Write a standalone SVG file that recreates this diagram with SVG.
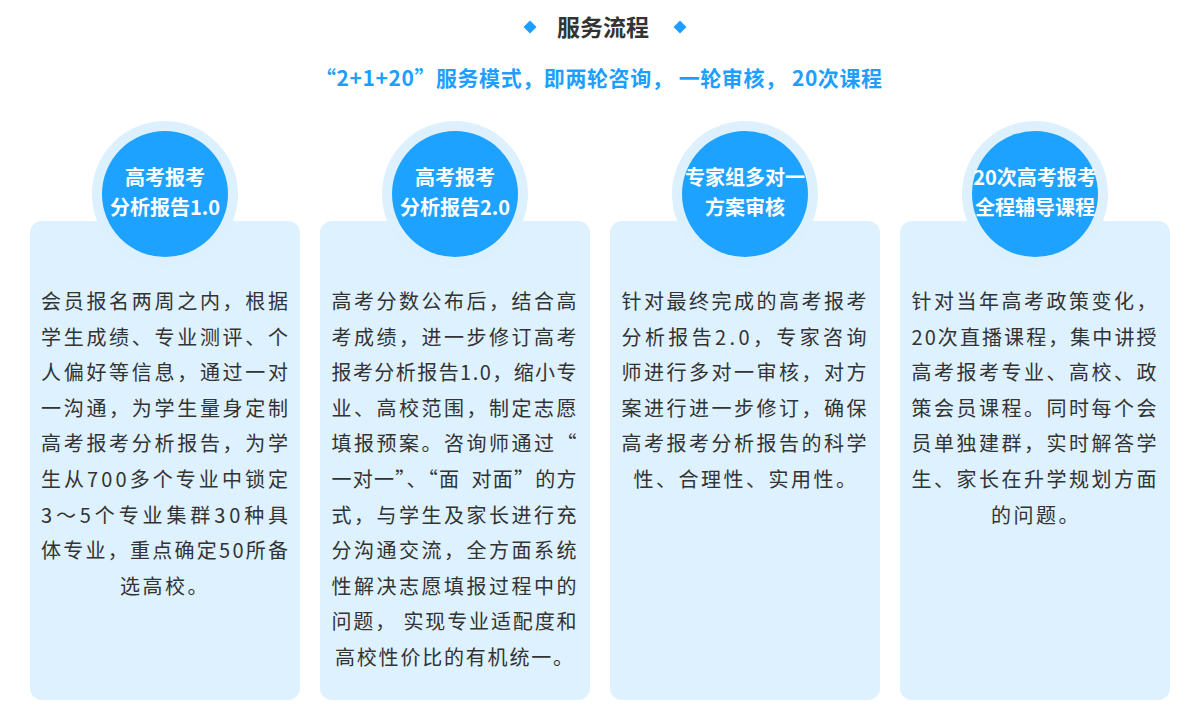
<svg xmlns="http://www.w3.org/2000/svg" width="1200" height="715" viewBox="0 0 1200 715">
<style>
.card{fill:#DEF1FE}
.halo{fill:#DDF0FD}
.disc{fill:#1EA2FF}
.ct{font-family:"Noto Sans CJK SC","Noto Sans",sans-serif;font-size:20px;font-weight:bold;fill:#FFFFFF;text-anchor:middle}
.bt{font-family:"Noto Sans CJK SC","Noto Sans",sans-serif;font-size:20px;fill:#333333}
.bc{text-anchor:middle;letter-spacing:2.5px}
.dia{fill:#1E9FFF}
</style>
<rect width="1200" height="715" fill="#FFFFFF"/>
<g id="title">
<path class="dia" d="M530 20.5 L536.5 27 L530 33.5 L523.5 27 Z"/>
<path class="dia" d="M680 20.5 L686.5 27 L680 33.5 L673.5 27 Z"/>
<text x="603" y="36" font-family="'Noto Sans CJK SC','Noto Sans',sans-serif" font-size="23" font-weight="bold" fill="#333333" text-anchor="middle">服务流程</text>
<text x="315" y="86" textLength="567" lengthAdjust="spacing" font-family="'Noto Sans CJK SC','Noto Sans',sans-serif" font-size="21" font-weight="bold" fill="#1E9FFF">“2+1+20”服务模式，即两轮咨询， 一轮审核， 20次课程</text>
</g>
<g id="node1">
<rect class="card" x="30" y="221" width="270" height="479" rx="12"/>
<circle class="halo" cx="165" cy="194" r="73"/>
<circle class="disc" cx="165" cy="194" r="63"/>
<text class="ct" x="165" y="185">高考报考</text>
<text class="ct" x="165" y="215">分析报告1.0</text>
<text class="bt" x="41" y="309" textLength="247" lengthAdjust="spacing">会员报名两周之内，根据</text>
<text class="bt" x="41" y="344.6" textLength="247" lengthAdjust="spacing">学生成绩、专业测评、个</text>
<text class="bt" x="41" y="380.2" textLength="247" lengthAdjust="spacing">人偏好等信息，通过一对</text>
<text class="bt" x="41" y="415.8" textLength="247" lengthAdjust="spacing">一沟通，为学生量身定制</text>
<text class="bt" x="41" y="451.4" textLength="247" lengthAdjust="spacing">高考报考分析报告，为学</text>
<text class="bt" x="41" y="487" textLength="247" lengthAdjust="spacing">生从700多个专业中锁定</text>
<text class="bt" x="41" y="522.6" textLength="247" lengthAdjust="spacing">3～5个专业集群30种具</text>
<text class="bt" x="41" y="558.2" textLength="247" lengthAdjust="spacing">体专业，重点确定50所备</text>
<text class="bt bc" x="165" y="593.8">选高校。</text>
</g>
<g id="node2">
<rect class="card" x="320" y="221" width="270" height="479" rx="12"/>
<circle class="halo" cx="455" cy="194" r="73"/>
<circle class="disc" cx="455" cy="194" r="63"/>
<text class="ct" x="455" y="185">高考报考</text>
<text class="ct" x="455" y="215">分析报告2.0</text>
<text class="bt" x="331.5" y="309" textLength="245" lengthAdjust="spacing">高考分数公布后，结合高</text>
<text class="bt" x="331.5" y="344.6" textLength="245" lengthAdjust="spacing">考成绩，进一步修订高考</text>
<text class="bt" x="331.5" y="380.2" textLength="245" lengthAdjust="spacing">报考分析报告1.0，缩小专</text>
<text class="bt" x="331.5" y="415.8" textLength="245" lengthAdjust="spacing">业、高校范围，制定志愿</text>
<text class="bt" x="331.5" y="451.4" textLength="245" lengthAdjust="spacing">填报预案。咨询师通过“</text>
<text class="bt" x="331.5" y="487" textLength="245" lengthAdjust="spacing">一对一”、“面&#160;&#160;对面”的方</text>
<text class="bt" x="331.5" y="522.6" textLength="245" lengthAdjust="spacing">式，与学生及家长进行充</text>
<text class="bt" x="331.5" y="558.2" textLength="245" lengthAdjust="spacing">分沟通交流，全方面系统</text>
<text class="bt" x="331.5" y="593.8" textLength="245" lengthAdjust="spacing">性解决志愿填报过程中的</text>
<text class="bt" x="331.5" y="629.4" textLength="245" lengthAdjust="spacing">问题，&#160;实现专业适配度和</text>
<text class="bt" x="335" y="665" textLength="238" lengthAdjust="spacing">高校性价比的有机统一。</text>
</g>
<g id="node3">
<rect class="card" x="610" y="221" width="270" height="479" rx="12"/>
<circle class="halo" cx="745" cy="194" r="73"/>
<circle class="disc" cx="745" cy="194" r="63"/>
<text class="ct" x="745" y="185">专家组多对一</text>
<text class="ct" x="745" y="215">方案审核</text>
<text class="bt" x="621.5" y="309" textLength="245" lengthAdjust="spacing">针对最终完成的高考报考</text>
<text class="bt" x="621.5" y="344.6" textLength="245" lengthAdjust="spacing">分析报告2.0，专家咨询</text>
<text class="bt" x="621.5" y="380.2" textLength="245" lengthAdjust="spacing">师进行多对一审核，对方</text>
<text class="bt" x="621.5" y="415.8" textLength="245" lengthAdjust="spacing">案进行进一步修订，确保</text>
<text class="bt" x="621.5" y="451.4" textLength="245" lengthAdjust="spacing">高考报考分析报告的科学</text>
<text class="bt bc" x="746" y="487">性、合理性、实用性。</text>
</g>
<g id="node4">
<rect class="card" x="900" y="221" width="270" height="479" rx="12"/>
<circle class="halo" cx="1035" cy="194" r="73"/>
<circle class="disc" cx="1035" cy="194" r="63"/>
<text class="ct" x="1035" y="185">20次高考报考</text>
<text class="ct" x="1035" y="215">全程辅导课程</text>
<text class="bt" x="911.5" y="309" textLength="245" lengthAdjust="spacing">针对当年高考政策变化，</text>
<text class="bt" x="911.5" y="344.6" textLength="245" lengthAdjust="spacing">20次直播课程，集中讲授</text>
<text class="bt" x="911.5" y="380.2" textLength="245" lengthAdjust="spacing">高考报考专业、高校、政</text>
<text class="bt" x="911.5" y="415.8" textLength="245" lengthAdjust="spacing">策会员课程。同时每个会</text>
<text class="bt" x="911.5" y="451.4" textLength="245" lengthAdjust="spacing">员单独建群，实时解答学</text>
<text class="bt" x="911.5" y="487" textLength="245" lengthAdjust="spacing">生、家长在升学规划方面</text>
<text class="bt bc" x="1036" y="522.6">的问题。</text>
</g>
<g id="connectors"/>
</svg>
